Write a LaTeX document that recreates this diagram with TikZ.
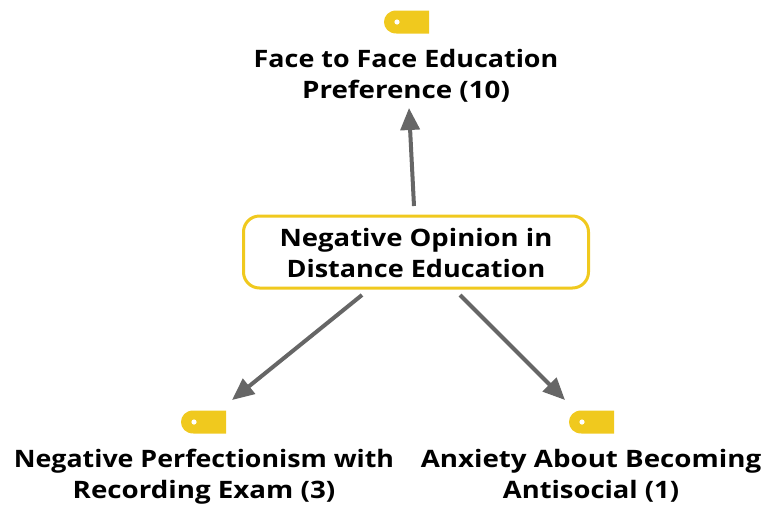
\documentclass[tikz,border=0pt]{standalone}
\usepackage{fontspec}
\usepackage{graphicx}
\setmainfont{Open Sans}
\usetikzlibrary{arrows.meta}
\definecolor{tagy}{HTML}{F0C91E}
\definecolor{arrowg}{HTML}{666666}
\tikzset{
 px/.style={x=1pt,y=-1pt},
 lab/.style={inner sep=0pt,text=black},
 conn/.style={draw=arrowg,line width=4pt,-{Triangle[length=22pt,width=19pt]}},
 central/.style={draw=tagy,line width=3pt,rounded corners=16pt,fill=white,minimum width=345pt,minimum height=72pt}
}
\newcommand{\labtext}[4]{\fontsize{24}{31}\selectfont\bfseries\begin{tabular}{@{}c@{}}\scalebox{#1}[1]{#2}\\\scalebox{#3}[1]{#4}\end{tabular}}
\newcommand{\tagicon}[2]{%
 \fill[tagy] (#1+22.5,#2-11.5) -- (#1-10,#2-11.5) .. controls (#1-18,#2-11.5) and (#1-22.5,#2-6) .. (#1-22.5,#2) .. controls (#1-22.5,#2+6) and (#1-18,#2+11.5) .. (#1-10,#2+11.5) -- (#1+22.5,#2+11.5) -- cycle;
 \fill[white] (#1-9.5,#2) circle (2.6);
}
\begin{document}
\begin{tikzpicture}[px]
\useasboundingbox (0,0) rectangle (764,507);
\tagicon{406.5}{22}
\tagicon{203.5}{422}
\tagicon{591.5}{422}
\node[central] (c) at (416,252) {};
\node[lab] (ct) at (416,256) {\labtext{1.145}{Negative Opinion in}{1.125}{Distance Education}};
\node[lab] (t) at (406,77) {\labtext{1.12}{Face to Face Education}{1.155}{Preference (10)}};
\node[lab] (l) at (204,476.5) {\labtext{1.115}{Negative Perfectionism with}{1.155}{Recording Exam (3)}};
\node[lab] (r) at (591,476.5) {\labtext{1.155}{Anxiety About Becoming}{1.14}{Antisocial (1)}};
\coordinate (a0) at (414,206);
\coordinate (a1) at (409,108);
\coordinate (b0) at (362,295);
\coordinate (b1) at (232,400);
\coordinate (d0) at (460,295);
\coordinate (d1) at (565,400);
\draw[conn] (a0) -- (a1);
\draw[conn] (b0) -- (b1);
\draw[conn] (d0) -- (d1);
\end{tikzpicture}
\end{document}
